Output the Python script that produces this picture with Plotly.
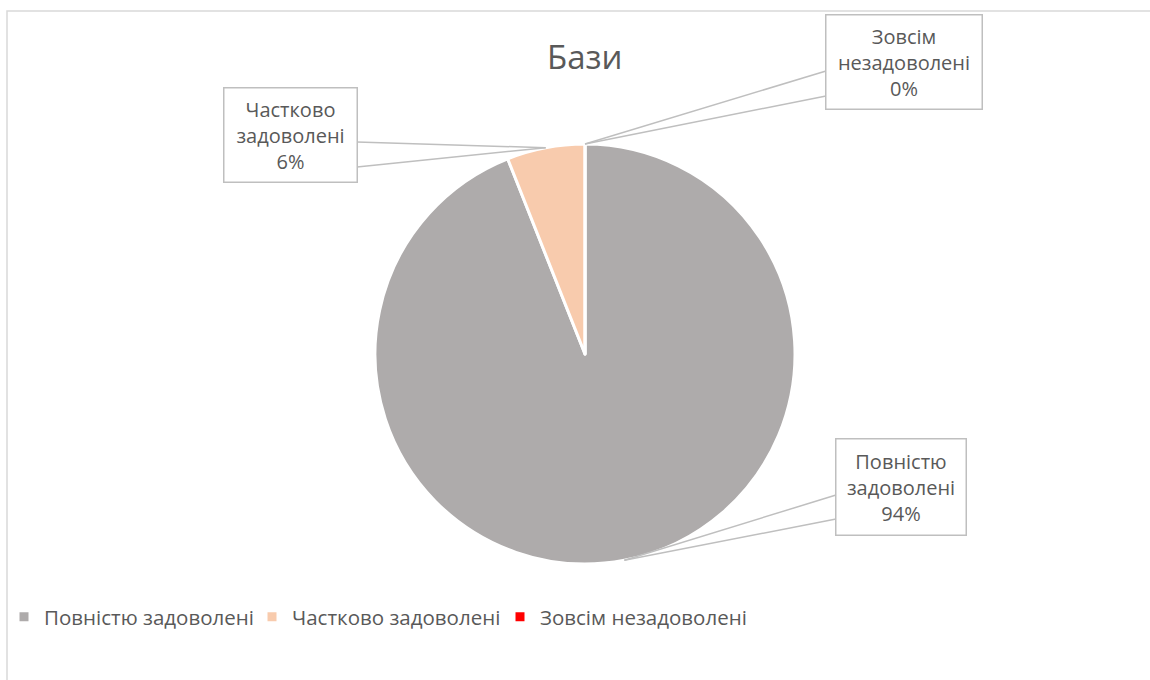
import numpy as np
import plotly.graph_objects as go

categories = ["Повністю задоволені", "Частково задоволені", "Зовсім незадоволені"]
values = [94, 6, 0]
colors = ["#AEABAB", "#F8CBAD", "#FF0000"]
title_text = "Бази"

W, H = 1150, 680
CX, CY, R = 585, 354, 210  # pie center & radius in px

def px(x):
    return x / W

def py(y):
    return 1 - y / H

fig = go.Figure(go.Pie(
    labels=categories, values=values, sort=False, direction="clockwise", rotation=0,
    marker=dict(colors=colors, line=dict(color="white", width=3)),
    textinfo="none", hoverinfo="label+percent",
    domain=dict(x=[px(CX - R), px(CX + R)], y=[py(CY + R), py(CY - R)]),
    showlegend=True,
))

# callout boxes: (center x, center y, width, height, edge x, edge y1, edge y2)
boxes = [
    (901, 487, 131, 97, 836, 495, 519),
    (290, 135, 134, 95, 357, 142, 167),
    (904, 62, 157, 95, 826, 71, 96),
]
total = sum(values)
cum = np.cumsum([0] + values[:-1])
font = dict(family="'Open Sans', Lato, sans-serif", color="#595959")
shapes = []
annotations = []
for i, (bx, by, bw, bh, ex, ey1, ey2) in enumerate(boxes):
    mid = (cum[i] + values[i] / 2) / total * 2 * np.pi
    tx = CX + R * np.sin(mid)
    ty = CY - R * np.cos(mid)
    pct = round(values[i] / total * 100)
    name = categories[i].split(" ")
    txt = f"{name[0]}<br>{name[1]}<br>{pct}%"
    for ey in (ey1, ey2):
        shapes.append(dict(type="line", xref="paper", yref="paper",
                           x0=px(ex), y0=py(ey), x1=px(tx), y1=py(ty),
                           line=dict(color="#BFBFBF", width=1.5)))
    annotations.append(dict(xref="paper", yref="paper", x=px(bx), y=py(by),
                            xanchor="center", yanchor="middle", showarrow=False,
                            text=txt, width=bw - 4, height=bh - 4, align="center",
                            valign="middle", bordercolor="#BFBFBF", borderwidth=1.5,
                            borderpad=1, bgcolor="white",
                            font=dict(size=20, **font)))

annotations.append(dict(xref="paper", yref="paper", x=px(585), y=py(56),
                        xanchor="center", yanchor="middle", showarrow=False,
                        text=title_text, font=dict(size=33, **font)))

# chart outer border
shapes.append(dict(type="rect", xref="paper", yref="paper", x0=px(7), y0=-0.05,
                   x1=1.05, y1=py(11), line=dict(color="#D9D9D9", width=1.5),
                   layer="below"))

fig.update_layout(
    width=W, height=H, margin=dict(l=0, r=0, t=0, b=0),
    paper_bgcolor="white", plot_bgcolor="white",
    shapes=shapes, annotations=annotations,
    legend=dict(orientation="h", x=px(4), y=py(617), xanchor="left", yanchor="middle",
                font=dict(size=20.5, **font), itemwidth=30, traceorder="normal",
                bgcolor="rgba(0,0,0,0)", entrywidth=203, entrywidthmode="pixels"),
)

fig.write_html("out.html", config={"displayModeBar": False},
               post_script="document.body.style.margin='0';document.body.style.overflow='hidden';")
